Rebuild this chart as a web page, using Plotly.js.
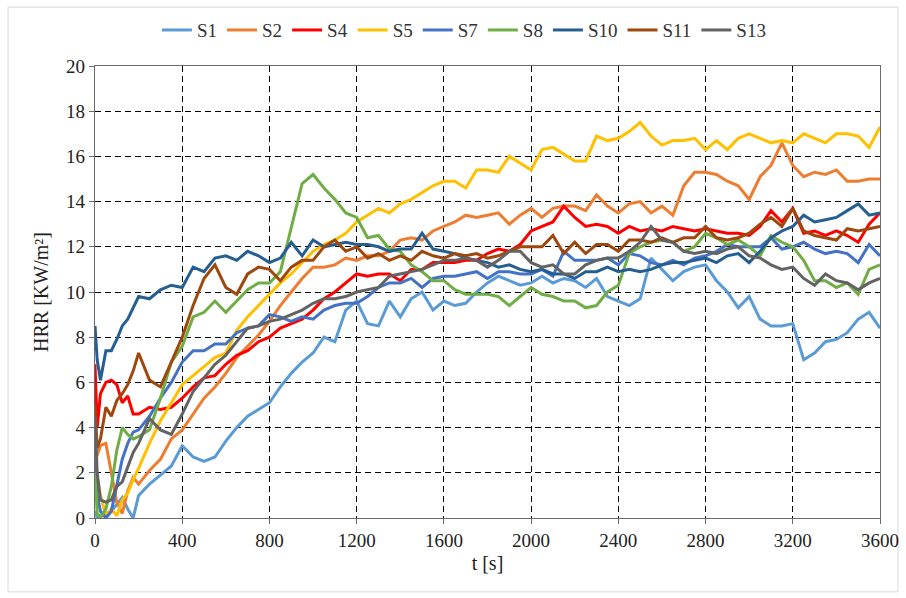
<!DOCTYPE html>
<html>
<head>
<meta charset="utf-8">
<script src="https://cdn.plot.ly/plotly-3.0.1.min.js"></script>
<style>html,body{margin:0;padding:0;background:#fff;}#chart{width:906px;height:598px;}</style>
</head>
<body>
<div id="chart"></div>
<script>
// time [s]
const t = [0,10,25,50,75,100,125,150,175,200,
  250,300,350,400,450,500,550,600,650,700,
  750,800,850,900,950,1000,1050,1100,1150,1200,
  1250,1300,1350,1400,1450,1500,1550,1600,1650,1700,
  1750,1800,1850,1900,1950,2000,2050,2100,2150,2200,
  2250,2300,2350,2400,2450,2500,2550,2600,2650,2700,
  2750,2800,2850,2900,2950,3000,3050,3100,3150,3200,
  3250,3300,3350,3400,3450,3500,3550,3600];

const seriesNames = ["S1","S2","S4","S5","S7","S8","S10","S11","S13"];
const seriesColors = ["#5B9BD5","#ED7D31","#FF0000","#FFC000","#4472C4","#70AD47","#255E91","#9E480E","#636363"];

const s1 = [0.3,0,0.1,0.2,0.3,0.6,0.9,0.4,0.0,1.0,
  1.5,1.9,2.3,3.2,2.7,2.5,2.7,3.4,4.0,4.5,
  4.8,5.1,5.8,6.4,6.9,7.3,8.0,7.8,9.2,9.6,
  8.6,8.5,9.6,8.9,9.7,10.0,9.2,9.6,9.4,9.5,
  10.0,10.4,10.7,10.5,10.3,10.4,10.7,10.4,10.6,10.5,
  10.2,10.6,9.8,9.6,9.4,9.7,11.5,11.0,10.5,10.9,
  11.1,11.2,10.5,10.0,9.3,9.8,8.8,8.5,8.5,8.6,
  7.0,7.3,7.8,7.9,8.2,8.8,9.1,8.4];
const s2 = [2.5,2.8,3.2,3.3,2.0,0.7,0.2,1.2,1.8,1.5,
  2.1,2.6,3.5,3.9,4.6,5.3,5.8,6.4,7.1,7.6,
  8.1,8.7,9.4,10.0,10.6,11.1,11.1,11.2,11.5,11.4,
  11.6,11.6,11.8,12.3,12.4,12.3,12.7,12.9,13.1,13.4,
  13.3,13.4,13.5,13.0,13.4,13.7,13.3,13.7,13.8,13.8,
  13.6,14.3,13.8,13.5,13.9,14.0,13.5,13.8,13.4,14.7,
  15.3,15.3,15.2,14.9,14.7,14.1,15.1,15.6,16.6,15.6,
  15.1,15.3,15.2,15.4,14.9,14.9,15.0,15.0];
const s4 = [6.8,4.0,5.5,6.0,6.1,5.9,5.1,5.4,4.6,4.6,
  4.9,4.8,4.9,5.3,5.8,6.2,6.3,6.8,7.2,7.4,
  7.8,8.0,8.4,8.6,8.8,9.2,9.7,10.0,10.4,10.8,
  10.7,10.8,10.8,10.5,11.0,11.0,11.3,11.3,11.3,11.4,
  11.4,11.7,11.9,11.8,12.1,12.7,12.9,13.1,13.8,13.3,
  12.9,13.0,12.9,12.6,12.9,12.7,12.8,12.7,12.9,12.8,
  12.7,12.8,12.7,12.6,12.6,12.5,12.9,13.6,13.1,13.7,
  12.6,12.7,12.5,12.7,12.5,12.2,13.0,13.5];
const s5 = [2.5,1.8,1.0,0.1,0.4,0.1,0.8,1.1,1.7,2.2,
  3.3,4.3,5.1,5.9,6.3,6.7,7.1,7.3,8.3,8.9,
  9.4,9.9,10.4,10.8,11.3,11.8,12.1,12.3,12.6,13.1,
  13.4,13.7,13.5,13.9,14.1,14.4,14.7,14.9,14.9,14.6,
  15.4,15.4,15.3,16.0,15.7,15.4,16.3,16.4,16.1,15.8,
  15.8,16.9,16.7,16.8,17.1,17.5,16.9,16.5,16.7,16.7,
  16.8,16.3,16.7,16.3,16.8,17.0,16.8,16.6,16.7,16.6,
  17.0,16.8,16.6,17.0,17.0,16.9,16.4,17.3];
const s7 = [2.5,1.0,0.3,0.0,0.3,1.5,2.6,3.3,3.8,3.9,
  4.5,5.3,6.0,6.9,7.4,7.4,7.7,7.7,8.2,8.4,
  8.5,9.0,8.9,8.7,8.9,8.8,9.2,9.4,9.5,9.5,
  9.8,10.2,10.4,10.4,10.6,10.2,10.6,10.7,10.7,10.8,
  10.9,10.6,10.9,10.9,10.8,10.8,11.0,10.7,11.8,11.4,
  11.4,11.4,11.5,11.2,11.7,11.6,11.3,11.2,11.4,11.2,
  11.5,11.6,11.8,12.1,12.0,12.0,12.0,12.4,11.9,12.0,
  12.2,11.9,11.7,11.8,11.7,11.3,12.1,11.6];
const s8 = [2.0,0.2,0.0,0.4,1.4,3.0,4.0,3.7,3.5,3.6,
  3.9,5.3,6.9,7.6,8.9,9.1,9.6,9.1,9.6,10.1,
  10.4,10.4,10.9,12.8,14.8,15.2,14.6,14.1,13.5,13.3,
  12.4,12.5,11.9,11.8,11.2,10.9,10.5,10.5,10.1,9.9,
  9.9,9.9,9.8,9.4,9.8,10.2,9.9,9.8,9.6,9.6,
  9.3,9.4,10.0,10.3,11.7,12.0,12.2,12.3,12.2,11.8,
  12.0,12.6,12.4,12.1,12.3,12.0,11.6,12.5,12.2,12.0,
  11.4,10.5,10.5,10.2,10.4,9.9,11.0,11.2];
const s10 = [8.5,7.0,6.1,7.4,7.4,7.9,8.5,8.8,9.3,9.8,
  9.7,10.1,10.3,10.2,11.1,10.9,11.5,11.6,11.4,11.8,
  11.6,11.3,11.5,12.2,11.6,12.3,12.0,12.1,12.2,12.1,
  12.1,12.0,11.8,11.9,11.9,12.6,11.9,11.8,11.7,11.5,
  11.4,11.3,11.1,11.2,11.0,10.9,11.0,10.8,10.8,10.6,
  10.9,10.9,11.1,10.9,11.0,10.9,11.0,11.2,11.3,11.3,
  11.4,11.5,11.3,11.6,11.7,11.3,11.8,12.4,12.7,12.9,
  13.4,13.1,13.2,13.3,13.6,13.9,13.4,13.5];
const s11 = [5.0,3.1,3.5,4.9,4.5,5.2,5.5,5.9,6.5,7.3,
  6.1,5.8,6.9,8.0,9.4,10.6,11.2,10.2,9.9,10.8,
  11.1,11.0,10.5,11.1,11.4,11.4,12.0,12.3,11.8,12.0,
  11.5,11.7,11.4,11.6,11.4,11.8,11.6,11.5,11.7,11.6,
  11.7,11.5,11.6,11.8,12.0,12.0,12.0,12.5,11.7,12.2,
  11.7,12.1,12.1,11.8,12.3,12.3,12.2,12.4,12.2,12.4,
  12.4,12.9,12.4,12.3,12.4,12.6,13.0,13.3,12.9,13.7,
  12.7,12.5,12.4,12.3,12.8,12.7,12.8,12.9];
const s13 = [4.5,2.0,0.8,0.7,0.8,1.4,1.6,2.3,2.9,3.3,
  4.4,3.9,3.7,4.6,5.6,6.2,6.8,7.2,7.8,8.4,
  8.5,8.7,8.8,9.0,9.2,9.5,9.7,9.7,9.8,10.0,
  10.1,10.2,10.7,10.8,10.9,11.0,11.2,11.4,11.4,11.5,
  11.4,11.1,11.4,11.8,11.8,11.3,11.1,11.2,10.8,10.8,
  11.2,11.4,11.5,11.5,11.8,12.2,12.9,12.3,12.2,11.8,
  11.7,11.8,11.7,11.9,12.0,11.6,11.5,11.2,11.0,11.1,
  10.6,10.3,10.8,10.5,10.4,10.1,10.4,10.6];

const xTicks = [0,400,800,1200,1600,2000,2400,2800,3200,3600];
const yTicks = [0,2,4,6,8,10,12,14,16,18,20];

const allY = [s1,s2,s4,s5,s7,s8,s10,s11,s13];
const FONT = "'Liberation Serif', 'Times New Roman', serif";

const traces = allY.map((y,i) => ({
  type: "scatter", mode: "lines", name: seriesNames[i], x: t, y: y,
  line: {color: seriesColors[i], width: 3}
}));

const axisCommon = {
  showgrid: true, gridcolor: "#000000", gridwidth: 1, griddash: "6px,4px",
  showline: true, mirror: true, linecolor: "#6b6b6b", linewidth: 1.3,
  ticks: "outside", ticklen: 5, tickcolor: "#6b6b6b", zeroline: false,
  tickfont: {family: FONT, size: 19, color: "#222"}
};

const layout = {
  width: 906, height: 598,
  margin: {l: 95, r: 26, t: 65, b: 80},
  paper_bgcolor: "#fff", plot_bgcolor: "#fff",
  showlegend: true,
  legend: {orientation: "h", x: 0.47, xanchor: "center", y: 1.077, yanchor: "middle",
           font: {family: FONT, size: 19, color: "#333"}, tracegroupgap: 0, itemwidth: 30},
  xaxis: Object.assign({}, axisCommon, {range: [0,3600], tickvals: xTicks,
           title: {text: "t [s]", font: {family: FONT, size: 20, color: "#222"}, standoff: 6}}),
  yaxis: Object.assign({}, axisCommon, {range: [0,20], tickvals: yTicks,
           title: {text: "HRR [KW/m²]", font: {family: FONT, size: 20, color: "#222"}, standoff: 12}}),
  shapes: [{type: "rect", xref: "paper", yref: "paper",
            x0: -0.1108, x1: 1.0229, y0: -0.1634, y1: 1.1302,
            line: {color: "#d9d9d9", width: 1}, fillcolor: "rgba(0,0,0,0)", layer: "below"}]
};

Plotly.newPlot("chart", traces, layout, {displayModeBar: false, staticPlot: true});
</script>
</body>
</html>
